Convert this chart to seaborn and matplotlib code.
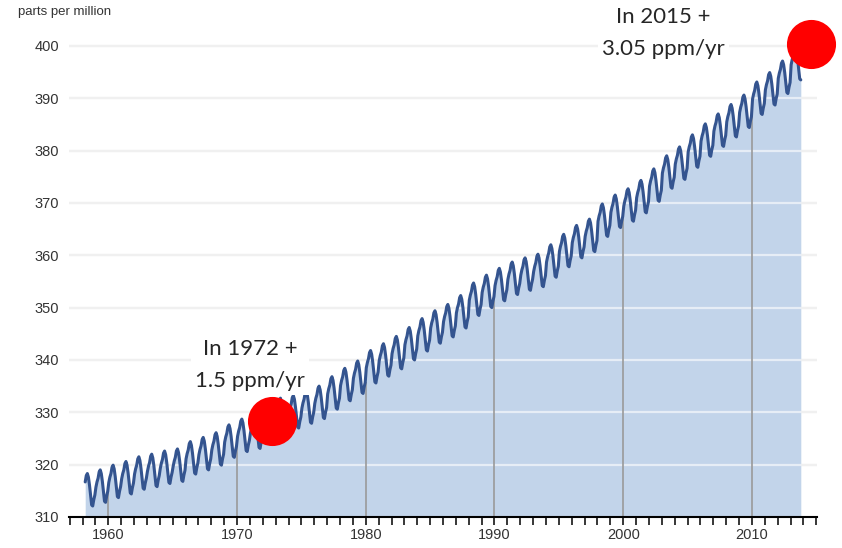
import matplotlib.pyplot as plt
import seaborn as sns
import pandas as pd
import numpy as np

# Mauna Loa CO2, annual level (ppm), 1958-2013
years = list(range(1958, 2014))
annual_mean = [315.3, 316.0, 316.9, 317.6, 318.5, 319.0, 319.6, 320.0, 321.4, 322.2,
               323.1, 324.6, 325.7, 326.3, 327.5, 329.7, 330.2, 331.1, 332.0, 333.8,
               335.4, 336.8, 338.8, 340.1, 341.5, 343.2, 344.9, 346.4, 347.6, 349.3,
               351.7, 353.2, 354.5, 355.7, 356.5, 357.2, 359.0, 361.0, 362.7, 363.9,
               366.8, 368.5, 369.7, 371.3, 373.5, 376.0, 377.7, 380.0, 382.1, 384.0,
               385.8, 387.6, 390.1, 391.9, 394.1, 396.7]
# seasonal swing around the annual level, Jan..Dec
seasonal = [-0.3, 0.7, 1.4, 2.6, 3.0, 2.3, 0.8, -1.2, -3.0, -3.2, -2.0, -1.1]
first_month = 2   # March 1958
last_month = 9    # October 2013

x_ticks = list(range(1957, 2016))
x_labels = [str(y) if y % 10 == 0 else '' for y in x_ticks]
y_ticks = list(range(310, 401, 10))

notes = [
    {'text': 'In 1972 +\n1.5 ppm/yr', 'year': 1972.7, 'ppm': 328.4, 'tx': 1971.0, 'ty': 339.1},
    {'text': 'In 2015 +\n3.05 ppm/yr', 'year': 2014.6, 'ppm': 400.4, 'tx': 2003.1, 'ty': 402.4},
]

rows = []
for i, yr in enumerate(years):
    for m in range(12):
        if yr == years[0] and m < first_month:
            continue
        if yr == years[-1] and m > last_month:
            continue
        rows.append({'t': yr + (m + 0.5) / 12, 'ppm': annual_mean[i] + seasonal[m]})
df = pd.DataFrame(rows)

sns.set_style('white')
plt.rcParams['font.family'] = ['Liberation Sans', 'DejaVu Sans']

fig = plt.figure(figsize=(8.42, 5.48), dpi=100)
ax = fig.add_axes([69 / 842, 31 / 548, 748 / 842, 513 / 548])

# gray grid behind the fill, white grid over it
for v in y_ticks[1:]:
    ax.axhline(v, color='#dcdcdc', lw=1.6, zorder=0)
ax.fill_between(df['t'], 310, df['ppm'], color='#c2d4ea', lw=0, zorder=1)
for v in y_ticks[1:]:
    ax.axhline(v, color='white', lw=1.6, alpha=0.6, zorder=2)

# decade markers under the curve
for d in range(1960, 2011, 10):
    top = df.loc[(df['t'] - d).abs().idxmin(), 'ppm']
    ax.vlines(d, 310, top, color='#9a9a9a', lw=1.2, zorder=2)

sns.lineplot(data=df, x='t', y='ppm', color='#34548f', lw=2.2, ax=ax, zorder=3)

for n in notes:
    ax.scatter([n['year']], [n['ppm']], s=1250, color='#ff0000', zorder=6, clip_on=False, lw=0)
    ax.text(n['tx'], n['ty'], n['text'], ha='center', va='center', fontsize=16,
            family=['Lato', 'DejaVu Sans'], linespacing=1.75, zorder=5,
            bbox=dict(facecolor='white', edgecolor='none', pad=3))

ax.set_xlim(1956.95, 2015.05)
ax.set_ylim(310, 408)
ax.set_xticks(x_ticks)
ax.set_xticklabels(x_labels, fontsize=10.5, color='#333333')
ax.set_yticks(y_ticks)
ax.set_yticklabels([str(v) for v in y_ticks], fontsize=10.5, color='#333333')
ax.tick_params(axis='x', length=6, width=1.1, color='black', direction='out', pad=2, bottom=True)
ax.tick_params(axis='y', length=0, pad=7)
ax.set_xlabel('')
ax.set_ylabel('')
for side in ['top', 'right', 'left']:
    ax.spines[side].set_visible(False)
ax.spines['bottom'].set_color('black')
ax.spines['bottom'].set_linewidth(1.5)

fig.text(18 / 842, 1 - 12 / 548, 'parts per million', fontsize=9.5, color='#333333', va='center')

fig.savefig('out.png', dpi=100)
